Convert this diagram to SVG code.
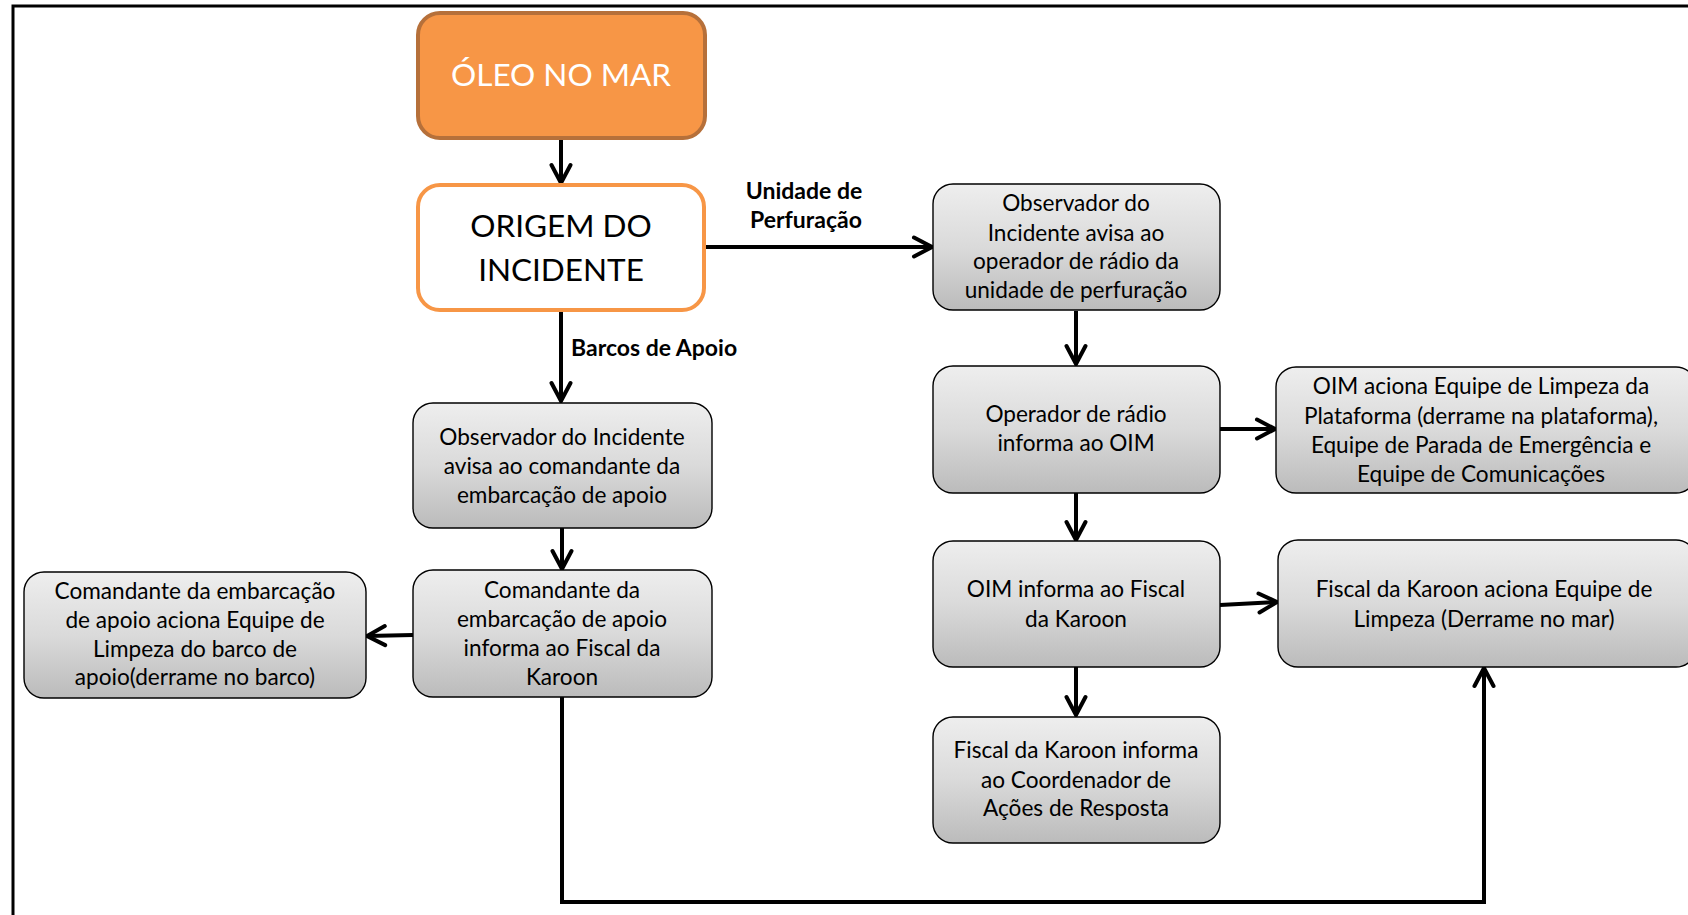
<svg xmlns="http://www.w3.org/2000/svg" width="1688" height="915" viewBox="0 0 1688 915">
<defs>
<linearGradient id="g" x1="0" y1="0" x2="0" y2="1">
<stop offset="0" stop-color="#EEEEEE"/>
<stop offset="0.5" stop-color="#DADADA"/>
<stop offset="1" stop-color="#BBBBBB"/>
</linearGradient>
<marker id="ah" markerUnits="userSpaceOnUse" viewBox="0 0 24 24" markerWidth="24" markerHeight="24" refX="21" refY="12" orient="auto">
<path d="M3,2.5 L21,12 L3,21.5" fill="none" stroke="#000" stroke-width="4" stroke-linecap="round" stroke-linejoin="miter"/>
</marker>
<style>
.box{fill:url(#g);stroke:#000;stroke-width:1.4}
.t{font-family:Lato,"Open Sans","DejaVu Sans",sans-serif;font-size:22.6px;fill:#000;text-anchor:middle}
.lbl{font-family:Lato,"Open Sans","DejaVu Sans",sans-serif;font-size:23px;font-weight:bold;fill:#000}
.c{fill:none;stroke:#000;stroke-width:4}
</style>
</defs>
<rect x="13" y="6" width="1720" height="960" fill="none" stroke="#000" stroke-width="3"/>
<g id="connectors">
<line class="c" x1="561" y1="139" x2="561" y2="183" marker-end="url(#ah)"/>
<line class="c" x1="705" y1="247" x2="932" y2="247" marker-end="url(#ah)"/>
<line class="c" x1="561" y1="311" x2="561" y2="401" marker-end="url(#ah)"/>
<line class="c" x1="1076" y1="311" x2="1076" y2="364" marker-end="url(#ah)"/>
<line class="c" x1="1220" y1="429" x2="1275" y2="429" marker-end="url(#ah)"/>
<line class="c" x1="1076" y1="493" x2="1076" y2="540" marker-end="url(#ah)"/>
<line class="c" x1="1220" y1="605" x2="1277" y2="602" marker-end="url(#ah)"/>
<line class="c" x1="1076" y1="667" x2="1076" y2="715" marker-end="url(#ah)"/>
<line class="c" x1="562" y1="528" x2="562" y2="569" marker-end="url(#ah)"/>
<line class="c" x1="413" y1="635" x2="367" y2="636" marker-end="url(#ah)"/>
<polyline class="c" points="562,697 562,902 1484,902 1484,668" marker-end="url(#ah)"/>
<text class="lbl" x="804" y="199" text-anchor="middle">Unidade de</text>
<text class="lbl" x="806" y="228" text-anchor="middle">Perfuração</text>
<text class="lbl" x="571" y="356">Barcos de Apoio</text>
</g>
<g id="oleo">
<rect x="418" y="13" width="287" height="125" rx="22" fill="#F79646" stroke="#B6703A" stroke-width="4"/>
<text x="561" y="86" font-family="Lato,'Open Sans',sans-serif" font-size="31.5" fill="#fff" text-anchor="middle">ÓLEO NO MAR</text>
</g>
<g id="origem">
<rect x="418" y="185" width="286" height="125" rx="22" fill="#fff" stroke="#F79646" stroke-width="4"/>
<text x="561" y="237" font-family="Lato,'Open Sans',sans-serif" font-size="31.5" fill="#000" text-anchor="middle">ORIGEM DO</text>
<text x="561" y="281" font-family="Lato,'Open Sans',sans-serif" font-size="31.5" fill="#000" text-anchor="middle">INCIDENTE</text>
</g>
<g id="obs-radio">
<rect class="box" x="933" y="184" width="287" height="126" rx="20"/>
<text class="t" x="1076" y="211">Observador do</text>
<text class="t" x="1076" y="241">Incidente avisa ao</text>
<text class="t" x="1076" y="269">operador de rádio da</text>
<text class="t" x="1076" y="298">unidade de perfuração</text>
</g>
<g id="operador">
<rect class="box" x="933" y="366" width="287" height="127" rx="20"/>
<text class="t" x="1076" y="422">Operador de rádio</text>
<text class="t" x="1076" y="451">informa ao OIM</text>
</g>
<g id="oim-aciona">
<rect class="box" x="1276" y="367" width="420" height="126" rx="20"/>
<text class="t" x="1481" y="394">OIM aciona Equipe de Limpeza da</text>
<text class="t" x="1481" y="424">Plataforma (derrame na plataforma),</text>
<text class="t" x="1481" y="453">Equipe de Parada de Emergência e</text>
<text class="t" x="1481" y="482">Equipe de Comunicações</text>
</g>
<g id="oim-fiscal">
<rect class="box" x="933" y="541" width="287" height="126" rx="20"/>
<text class="t" x="1076" y="597">OIM informa ao Fiscal</text>
<text class="t" x="1076" y="627">da Karoon</text>
</g>
<g id="fiscal-aciona">
<rect class="box" x="1278" y="540" width="418" height="127" rx="20"/>
<text class="t" x="1484" y="597">Fiscal da Karoon aciona Equipe de</text>
<text class="t" x="1484" y="627">Limpeza (Derrame no mar)</text>
</g>
<g id="fiscal-informa">
<rect class="box" x="933" y="717" width="287" height="126" rx="20"/>
<text class="t" x="1076" y="758">Fiscal da Karoon informa</text>
<text class="t" x="1076" y="788">ao Coordenador de</text>
<text class="t" x="1076" y="816">Ações de Resposta</text>
</g>
<g id="obs-comandante">
<rect class="box" x="413" y="403" width="299" height="125" rx="20"/>
<text class="t" x="562" y="445">Observador do Incidente</text>
<text class="t" x="562" y="474">avisa ao comandante da</text>
<text class="t" x="562" y="503">embarcação de apoio</text>
</g>
<g id="comandante-informa">
<rect class="box" x="413" y="570" width="299" height="127" rx="20"/>
<text class="t" x="562" y="598">Comandante da</text>
<text class="t" x="562" y="627">embarcação de apoio</text>
<text class="t" x="562" y="656">informa ao Fiscal da</text>
<text class="t" x="562" y="685">Karoon</text>
</g>
<g id="comandante-aciona">
<rect class="box" x="24" y="572" width="342" height="126" rx="20"/>
<text class="t" x="195" y="599">Comandante da embarcação</text>
<text class="t" x="195" y="628">de apoio aciona Equipe de</text>
<text class="t" x="195" y="657">Limpeza do barco de</text>
<text class="t" x="195" y="685">apoio(derrame no barco)</text>
</g>
</svg>
